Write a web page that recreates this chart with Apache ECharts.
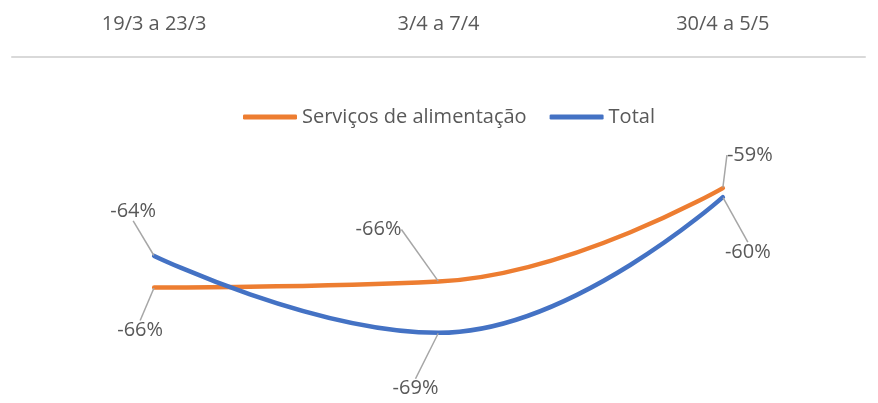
<!DOCTYPE html>
<html>
<head>
<meta charset="utf-8">
<script src="https://cdn.jsdelivr.net/npm/echarts@6/dist/echarts.min.js"></script>
<style>
  html, body { margin: 0; padding: 0; background: #fff; }
  #chart { width: 878px; height: 403px; }
</style>
</head>
<body>
<div id="chart"></div>
<script>
// dados
var periodos = ['19/3 a 23/3', '3/4 a 7/4', '30/4 a 5/5'];
var servicos = [-66.0, -65.6, -59.4];
var total = [-63.9, -69.0, -60.0];

// deslocamento dos rótulos em relação ao ponto
var offServicos = [[-14, 43], [-60, -52], [27, -33]];
var offTotal = [[-21, -45], [-23, 56], [25, 55]];

var textColor = '#595959';
var fonte = 'Open Sans';

var myChart = echarts.init(document.getElementById('chart'));

function serie(nome, cor, valores, offs) {
    return {
        name: nome,
        type: 'line',
        smooth: 0.45,
        data: valores,
        symbol: 'circle',
        symbolSize: 1,
        lineStyle: { color: cor, width: 4.5, cap: 'round' },
        itemStyle: { color: cor },
        label: {
            show: true,
            position: 'inside',
            color: textColor,
            fontFamily: fonte,
            fontSize: 20,
            formatter: function (p) { return Math.round(p.value) + '%'; }
        },
        labelLine: {
            show: true,
            lineStyle: { color: '#a6a6a6', width: 1.5 }
        },
        labelLayout: function (p) {
            var o = offs[p.dataIndex];
            return { dx: o[0], dy: o[1] };
        },
        emphasis: { disabled: true }
    };
}

var option = {
    animation: false,
    legend: {
        top: 102,
        left: 238,
        icon: 'roundRect',
        itemWidth: 54,
        itemHeight: 5,
        itemGap: 23,
        textStyle: { color: textColor, fontFamily: fonte, fontSize: 20 },
        data: ['Serviços de alimentação', 'Total']
    },
    grid: { left: 12, right: 13, top: 57, bottom: 25 },
    xAxis: {
        type: 'category',
        position: 'top',
        boundaryGap: true,
        data: periodos,
        axisLine: { lineStyle: { color: '#d9d9d9', width: 2 } },
        axisTick: { show: false },
        axisLabel: { color: textColor, fontFamily: fonte, fontSize: 20, margin: 23 }
    },
    yAxis: {
        type: 'value',
        min: -72,
        max: -50.7,
        show: false,
        splitLine: { show: false }
    },
    series: [
        serie('Serviços de alimentação', '#ED7D31', servicos, offServicos),
        serie('Total', '#4472C4', total, offTotal)
    ]
};

myChart.setOption(option);
</script>
</body>
</html>
